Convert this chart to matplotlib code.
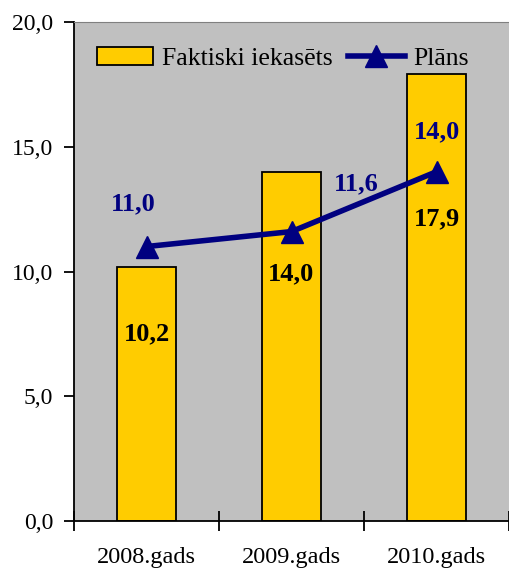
"""
plot.py
Bar + line chart: actual collections vs plan, 2008-2010.
"""
import matplotlib.pyplot as plt
import numpy as np

years = ["2008.gads", "2009.gads", "2010.gads"]
fact = [10.2, 14.0, 17.9]
plan = [11.0, 11.6, 14.0]
fact_labels = ["10,2", "14,0", "17,9"]
plan_labels = ["11,0", "11,6", "14,0"]
y_ticks = [0, 5, 10, 15, 20]
y_tick_labels = ["0,0", "5,0", "10,0", "15,0", "20,0"]

# label anchor points (data units)
fact_label_y = [7.5, 9.9, 12.1]
plan_label_x = [0.41, 1.95, 2.5]
plan_label_y = [12.7, 13.5, 15.6]

BAR = "#FFCC00"
NAVY = "#000080"
GRAY = "#C0C0C0"


def main():
    plt.rcParams["font.family"] = ["Liberation Serif", "DejaVu Serif"]
    fig = plt.figure(figsize=(5.09, 5.72), dpi=100)
    ax = fig.add_axes([74 / 509, 1 - 521 / 572, 1 - 74 / 509, (521 - 22) / 572])
    ax.set_facecolor(GRAY)

    x = np.arange(len(years)) + 0.5
    bars = ax.bar(x, fact, width=0.41, color=BAR, edgecolor="black", linewidth=1.3,
                  label="Faktiski iekasēts", zorder=2)
    line, = ax.plot(x, plan, color=NAVY, linewidth=4, marker="^", markersize=16,
                    label="Plāns", zorder=3)

    for xi, yi, s in zip(x, fact_label_y, fact_labels):
        ax.text(xi, yi, s, ha="center", va="center", fontsize=19,
                fontweight="bold", color="black", zorder=4)
    for xi, yi, s in zip(plan_label_x, plan_label_y, plan_labels):
        ax.text(xi, yi, s, ha="center", va="center", fontsize=19,
                fontweight="bold", color=NAVY, zorder=4)

    ax.set_xlim(0, 3)
    ax.set_ylim(0, 20)
    ax.set_yticks(y_ticks)
    ax.set_yticklabels(y_tick_labels, fontsize=17)
    ax.tick_params(axis="y", direction="out", length=7, width=1.3, pad=8)

    ax.set_xticks([0, 1, 2, 3])
    ax.set_xticklabels([])
    ax.set_xticks(x, minor=True)
    ax.set_xticklabels(years, minor=True, fontsize=17.5)
    ax.tick_params(axis="x", which="major", direction="inout", length=15, width=1.3)
    ax.tick_params(axis="x", which="minor", length=0, pad=19)

    ax.spines["left"].set_linewidth(1.3)
    ax.spines["bottom"].set_linewidth(1.3)
    ax.spines["top"].set_color("#808080")
    ax.spines["right"].set_visible(False)

    ax.legend([bars, line], ["Faktiski iekasēts", "Plāns"],
              loc="center", bbox_to_anchor=(0.48, 0.926), ncol=2, frameon=False,
              fontsize=18.5, handlelength=2.2, handletextpad=0.35,
              columnspacing=0.6, borderpad=0)

    fig.savefig("out.png", dpi=100)
    plt.close(fig)


if __name__ == "__main__":
    main()
